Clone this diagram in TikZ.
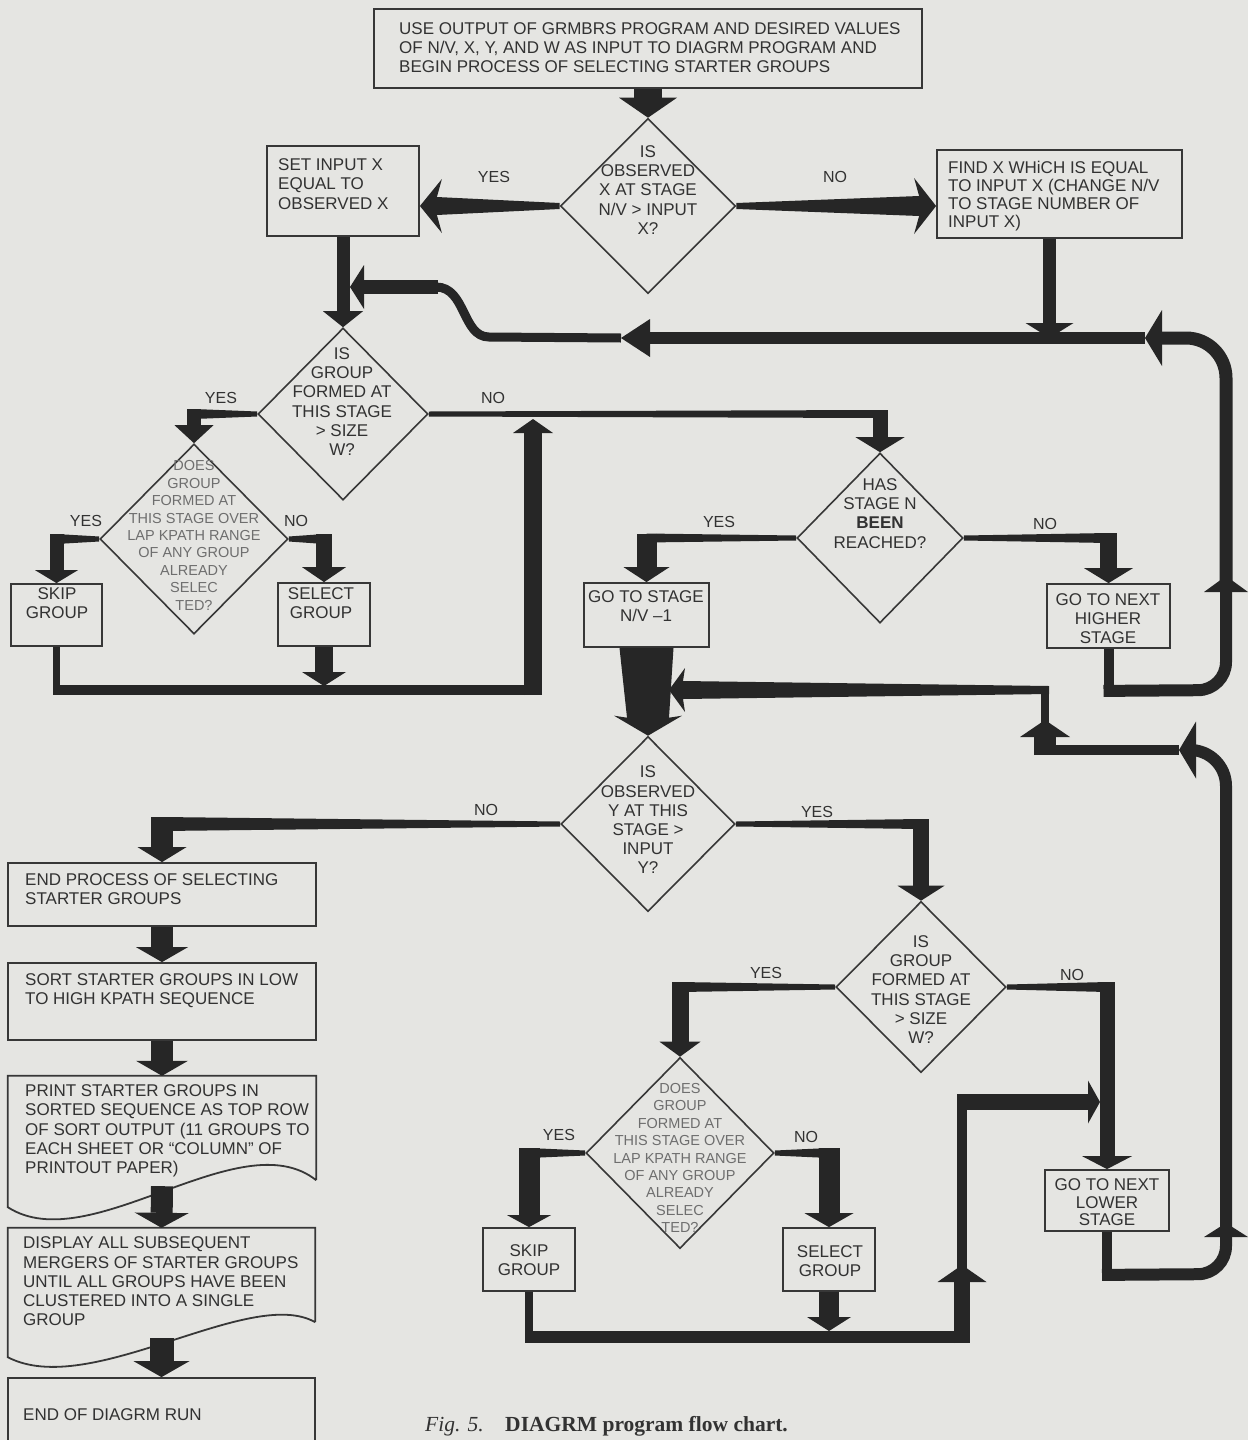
\documentclass[tikz,border=0pt]{standalone}
\usepackage{fontspec}
\setmainfont{Liberation Sans}
\newfontfamily\capfont{Liberation Serif}
\usetikzlibrary{arrows.meta,calc,shapes.geometric}
\definecolor{bgc}{RGB}{229,229,226}
\definecolor{ink}{RGB}{38,38,38}
\definecolor{boxc}{RGB}{55,55,55}
\definecolor{txtc}{RGB}{50,50,50}
\definecolor{ltxt}{RGB}{110,110,110}
\newcommand\fsA{\fontsize{17}{19.2}\selectfont}
\newcommand\fsB{\fontsize{17}{18}\selectfont}
\newcommand\fsC{\fontsize{14.5}{17.4}\selectfont}
\newcommand\fsD{\fontsize{17}{17.5}\selectfont}
\newcommand\fsL{\fontsize{16}{18}\selectfont}
\tikzset{
  box/.style={draw=boxc, line width=1.8pt, inner sep=0pt, rectangle},
  boxline/.style={draw=boxc, line width=1.8pt},
  dia/.style={diamond, draw=boxc, line width=1.6pt, inner sep=0pt},
  txt/.style={text=txtc, inner sep=0pt, font=\fsA},
  ltx/.style={text=ltxt, inner sep=0pt, font=\fsC},
  lbl/.style={text=txtc, inner sep=0pt, font=\fsL},
  hd/.style 2 args={-{Triangle[length=#1pt,width=#2pt,line width=0pt]}}
}
% elbow connector: tapered horizontal from #1, then vertical arrow into #2
\newcommand\myelbow[6]{%
  \coordinate (tmpc) at (#1 -| #2);
  \fill[ink] ($(#1)+(0,-2.5)$) -- ($(tmpc)+(0,-#3/2)$) -- ($(tmpc)+(0,#3/2)$) -- ($(#1)+(0,2.5)$) -- cycle;
  \draw[ink, line width=#4pt, hd={#5}{#6}] ($(tmpc)+(0,-#3/2)$) -- (#2);
}
\begin{document}
\begin{tikzpicture}[x=1pt,y=-1pt,line join=miter]
\useasboundingbox (0,0) rectangle (1248,1440);
\fill[bgc] (0,0) rectangle (1248,1440);
\clip (0,0) rectangle (1248,1440);

% ---------- nodes ----------
\node[box, minimum width=548pt, minimum height=79pt] (top) at (648,48.5) {};
\node[txt, anchor=west, align=left] (topt) at (399,47.5) {USE OUTPUT OF GRMBRS PROGRAM AND DESIRED VALUES\\OF N/V, X, Y, AND W AS INPUT TO DIAGRM PROGRAM AND\\BEGIN PROCESS OF SELECTING STARTER GROUPS};

\node[dia, minimum width=175pt, minimum height=175pt] (d1) at (648,206) {};
\node[txt, align=center] (d1t) at (648,190) {IS\\OBSERVED\\X AT STAGE\\N/V > INPUT\\X?};

\node[box, minimum width=152pt, minimum height=90pt] (b2) at (343,191) {};
\node[txt, anchor=west, align=left] (b2t) at (278,184) {SET INPUT X\\EQUAL TO\\OBSERVED X};

\node[box, minimum width=245pt, minimum height=88pt] (b3) at (1059.5,194) {};
\node[txt, font=\fsB, anchor=west, align=left] (b3t) at (948,196) {FIND X WHiCH IS EQUAL\\TO INPUT X (CHANGE N/V\\TO STAGE NUMBER OF\\INPUT X)};

\node[dia, minimum width=170pt, minimum height=172pt] (d2) at (343,414) {};
\node[txt, align=center] (d2t) at (342,401.5) {IS\\GROUP\\FORMED AT\\THIS STAGE\\> SIZE\\W?};

\node[dia, minimum width=188pt, minimum height=190pt] (d3) at (194,539) {};
\node[ltx, align=center] (d3t) at (194,535.5) {DOES\\GROUP\\FORMED AT\\THIS STAGE OVER\\LAP KPATH RANGE\\OF ANY GROUP\\ALREADY\\SELEC\\TED?};

\node[box, minimum width=91pt, minimum height=62pt] (skip1) at (56.5,615) {};
\node[txt, align=center] (skip1t) at (57,603) {SKIP\\GROUP};
\node[box, minimum width=92pt, minimum height=63pt] (select1) at (324,614.5) {};
\node[txt, align=center] (select1t) at (321,603.5) {SELECT\\GROUP};

\node[dia, minimum width=166pt, minimum height=170pt] (d4) at (880,538) {};
\node[txt, align=center] (d4t) at (880,513.5) {HAS\\STAGE N\\\textbf{BEEN}\\REACHED?};

\node[box, minimum width=125pt, minimum height=64pt] (gostage) at (646.5,615) {};
\node[txt, align=center] (gostaget) at (646,606) {GO TO STAGE\\N/V –1};

\node[box, minimum width=123pt, minimum height=64pt] (nexthigher) at (1108.5,616) {};
\node[txt, align=center] (nexthighert) at (1108,618.5) {GO TO NEXT\\HIGHER\\STAGE};

\node[dia, minimum width=174pt, minimum height=175pt] (d5) at (648,824) {};
\node[txt, align=center] (d5t) at (648,820) {IS\\OBSERVED\\Y AT THIS\\STAGE >\\INPUT\\Y?};

\node[dia, minimum width=170pt, minimum height=171pt] (d6) at (921,987) {};
\node[txt, align=center] (d6t) at (921,989.5) {IS\\GROUP\\FORMED AT\\THIS STAGE\\> SIZE\\W?};

\node[dia, minimum width=188pt, minimum height=191pt] (d7) at (680,1153) {};
\node[ltx, align=center] (d7t) at (680,1158) {DOES\\GROUP\\FORMED AT\\THIS STAGE OVER\\LAP KPATH RANGE\\OF ANY GROUP\\ALREADY\\SELEC\\TED?};

\node[box, minimum width=92pt, minimum height=63pt] (skip2) at (529,1259.5) {};
\node[txt, align=center] (skip2t) at (529,1260) {SKIP\\GROUP};
\node[box, minimum width=92pt, minimum height=63pt] (select2) at (829,1259.5) {};
\node[txt, align=center] (select2t) at (830,1261) {SELECT\\GROUP};
\node[box, minimum width=124pt, minimum height=61pt] (nextlower) at (1107,1200.5) {};
\node[txt, font=\fsD, align=center] (nextlowert) at (1107,1202.5) {GO TO NEXT\\LOWER\\STAGE};

% left column
\node[box, minimum width=308pt, minimum height=63pt] (endproc) at (162,894.5) {};
\node[txt, anchor=west, align=left] (endproct) at (25,889) {END PROCESS OF SELECTING\\STARTER GROUPS};
\node[box, minimum width=308pt, minimum height=77pt] (sort) at (162,1001.5) {};
\node[txt, anchor=west, align=left] (sortt) at (25,991) {SORT STARTER GROUPS IN LOW\\TO HIGH KPATH SEQUENCE};
\node[minimum width=308pt, minimum height=104pt, inner sep=0pt] (print) at (162,1128) {};
\draw[boxline] (print.south east) -- (print.north east) -- (print.north west) -- ($(print.south west)+(0,27)$) .. controls (90,1260) and (240,1120) .. (print.south east);
\node[txt, anchor=west, align=left] (printt) at (25,1131) {PRINT STARTER GROUPS IN\\SORTED SEQUENCE AS TOP ROW\\OF SORT OUTPUT (11 GROUPS TO\\EACH SHEET OR ``COLUMN'' OF\\PRINTOUT PAPER)};
\node[minimum width=307pt, minimum height=94pt, inner sep=0pt] (display) at (161.5,1275) {};
\draw[boxline] (display.south east) -- (display.north east) -- (display.north west) -- ($(display.south west)+(0,35)$) .. controls (90,1400) and (250,1285) .. (display.south east);
\node[txt, anchor=west, align=left] (displayt) at (23,1281.5) {DISPLAY ALL SUBSEQUENT\\MERGERS OF STARTER GROUPS\\UNTIL ALL GROUPS HAVE BEEN\\CLUSTERED INTO A SINGLE\\GROUP};
\node[box, minimum width=307pt, minimum height=82pt] (endrun) at (161.5,1419) {};
\node[txt, anchor=west, align=left] (endrunt) at (23,1415) {END OF DIAGRM RUN};

% caption
\node[anchor=base west, inner sep=0pt, text=txtc, font=\capfont\fontsize{21.5}{24}\selectfont] (cap) at (425,1431) {\textit{Fig. 5.}\quad\textbf{DIAGRM program flow chart.}};

% labels
\node[lbl] (l1) at (494,177) {YES};
\node[lbl] (l2) at (835,177) {NO};
\node[lbl] (l3) at (221,398) {YES};
\node[lbl] (l4) at (493,398) {NO};
\node[lbl] (l5) at (86,521) {YES};
\node[lbl] (l6) at (296,521) {NO};
\node[lbl] (l7) at (719,522) {YES};
\node[lbl] (l8) at (1045,524) {NO};
\node[lbl] (l9) at (486,810) {NO};
\node[lbl] (l10) at (817,812) {YES};
\node[lbl] (l11) at (766,973) {YES};
\node[lbl] (l12) at (1072,975) {NO};
\node[lbl] (l13) at (559,1135) {YES};
\node[lbl] (l14) at (806,1137) {NO};

% ---------- connectors ----------
\draw[ink, line width=28pt, hd={20}{58}] (top.south) -- (d1.north);

\coordinate (b2in) at (d1.west -| b2.east);
\fill[ink] ($(d1.west)+(0,-3)$) -- ($(b2in)+(17,-9)$) -- ($(b2in)+(22,-27)$) -- (b2in) -- ($(b2in)+(22,27)$) -- ($(b2in)+(17,9)$) -- ($(d1.west)+(0,3)$) -- cycle;
\coordinate (b3in) at (d1.east -| b3.west);
\fill[ink] ($(d1.east)+(0,-3)$) -- ($(b3in)+(-17,-10)$) -- ($(b3in)+(-22,-28)$) -- (b3in) -- ($(b3in)+(-22,28)$) -- ($(b3in)+(-17,10)$) -- ($(d1.east)+(0,3)$) -- cycle;

\draw[ink, line width=13pt, hd={16}{40}] (b2.south) -- (d2.north);

\coordinate (b3o) at ($(b3.south)+(-10,0)$);
\coordinate (loopR) at (1145,338);
\coordinate (ltip) at (621,338);
\coordinate (lin) at (350,287);
\draw[ink, line width=13pt, hd={15}{48}] (b3o) -- (b3o |- loopR);
\draw[ink, line width=12pt, hd={29}{38}] (loopR) -- (ltip);
\draw[ink, line width=9pt] (ltip) -- (489,337) .. controls (462,337) and (466,287) .. (436,287);
\draw[ink, line width=14pt, hd={14}{44}] (438,287) -- (lin);

% upper right loop
\coordinate (hr1) at (1226,690);
\coordinate (hr2) at (1226,576);
\draw[ink, line width=10pt] (nexthigher.south) -- ($(nexthigher.south)+(0,47)$);
\draw[ink, line width=12pt, rounded corners=28pt, hd={16}{44}] ($(nexthigher.south)+(-5,42)$) -- (hr1) -- (hr2);
\draw[ink, line width=13pt, rounded corners=40pt, hd={17}{56}] ($(hr2)+(0,8)$) -- (1226,338) -- (loopR);

% lower right loop
\coordinate (lr1) at (1226,1274);
\coordinate (lr2) at (1226,1223);
\coordinate (lltip) at (1179,750);
\coordinate (mj) at (1045,750);
\coordinate (mup) at (1045,720);
\coordinate (mj2) at (1045,690);
\coordinate (mtip) at (669,690);
\draw[ink, line width=10pt] (nextlower.south) -- ($(nextlower.south)+(0,49)$);
\draw[ink, line width=12pt, rounded corners=28pt, hd={14}{44}] ($(nextlower.south)+(-5,43)$) -- (lr1) -- (lr2);
\draw[ink, line width=12pt, rounded corners=36pt, hd={17}{57}] ($(lr2)+(0,8)$) -- (1226,750) -- (lltip);
\draw[ink, line width=10pt] (lltip) -- ($(mj)+(-11,0)$);
\draw[ink, line width=22pt, hd={17}{50}] ($(mj)+(0,5)$) -- (mup);
\draw[ink, line width=8pt] ($(mup)+(0,4)$) -- (mj2);
\fill[ink] ($(mj2)+(4,-4)$) -- ($(mtip)+(14,-9)$) -- ($(mtip)+(16,-22)$) -- (mtip) -- ($(mtip)+(16,22)$) -- ($(mtip)+(14,9)$) -- ($(mj2)+(4,4)$) -- cycle;

% wedge from GO TO STAGE to d5
\fill[ink] ($(gostage.south)+(-27,0)$) -- ($(gostage.south)+(27,0)$) -- ($(d5.north)+(21,-18)$) -- ($(d5.north)+(34,-20)$) -- (d5.north) -- ($(d5.north)+(-34,-20)$) -- ($(d5.north)+(-21,-18)$) -- cycle;

% upper left bottom loop
\coordinate (bl1) at (56.5,690);
\coordinate (bl2) at (533,690);
\coordinate (bl3) at (533,419);
\draw[ink, line width=7pt] (skip1.south) -- ($(bl1)+(0,5)$);
\draw[ink, line width=10pt] ($(bl1)+(-3.5,0)$) -- ($(bl2)+(9,0)$);
\draw[ink, line width=18pt, hd={14}{40}] ($(bl2)+(0,5)$) -- (bl3);
\draw[ink, line width=18pt, hd={14}{44}] (select1.south) -- ($(select1.south |- bl1)+(0,-4)$);

% lower bottom loop
\coordinate (bb1) at (529,1337);
\coordinate (bb2) at (962,1337);
\coordinate (bb3) at (962,1265);
\coordinate (bb4) at (962,1102);
\coordinate (bb5) at (1100,1102);
\draw[ink, line width=8pt] (skip2.south) -- ($(bb1)+(0,6)$);
\draw[ink, line width=12pt] ($(bb1)+(-4,0)$) -- ($(bb2)+(8,0)$);
\draw[ink, line width=16pt, hd={17}{49}] ($(bb2)+(0,6)$) -- (bb3);
\draw[ink, line width=10pt] ($(bb3)+(0,5)$) -- ($(bb4)+(0,-8)$);
\draw[ink, line width=16pt, hd={12}{43}] ($(bb4)+(-5,0)$) -- (bb5);
\draw[ink, line width=20pt, hd={14}{44}] (select2.south) -- ($(select2.south |- bb1)+(0,-6)$);

% elbows out of diamonds
\myelbow{d2.west}{d3.north}{10}{14}{18}{39}
\myelbow{d2.east}{d4.north}{8}{15}{15}{49}
\myelbow{d3.west}{skip1.north}{10}{14}{13}{43}
\myelbow{d3.east}{select1.north}{10}{16}{15}{44}
\myelbow{d4.west}{gostage.north}{9}{20}{15}{46}
\myelbow{d4.east}{nexthigher.north}{10}{17}{15}{49}
\myelbow{d5.east}{d6.north}{10}{16}{15}{47}
\myelbow{d5.west}{endproc.north}{14}{22}{15}{49}
\myelbow{d6.west}{d7.north}{10}{17}{15}{41}
\myelbow{d6.east}{nextlower.north}{10}{15}{13}{50}
\myelbow{d7.west}{skip2.north}{10}{21}{12}{44}
\myelbow{d7.east}{select2.north}{10}{21}{14}{49}

% left column arrows
\draw[ink, line width=22pt, hd={15}{52}] (endproc.south) -- (sort.north);
\draw[ink, line width=22pt, hd={15}{52}] (sort.south) -- (print.north);
\draw[ink, line width=22pt, hd={15}{54}] ($(print.south)+(0,6)$) -- (display.north);
\draw[ink, line width=24pt, hd={16}{56}] ($(display.south)+(0,16)$) -- (endrun.north);
\end{tikzpicture}
\end{document}
